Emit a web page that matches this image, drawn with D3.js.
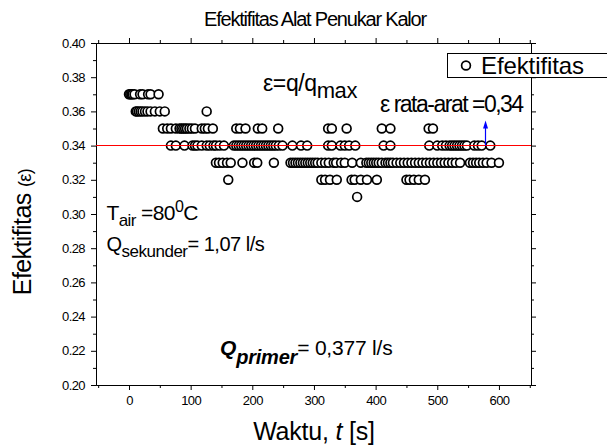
<!DOCTYPE html>
<html><head><meta charset="utf-8">
<script src="https://cdn.jsdelivr.net/npm/d3@7"></script>
<style>
body{margin:0;background:#fff}
svg{display:block}
text{font-family:"Liberation Sans",Arial,sans-serif;fill:#000}
</style>
</head><body>
<svg id="chart" width="607" height="448"></svg>
<script>
// ---- data ----
const xMajorTicks = [0, 100, 200, 300, 400, 500, 600];
const xMinorTicks = [-50, 50, 150, 250, 350, 450, 550, 650];
const yMajorTicks = [0.20, 0.22, 0.24, 0.26, 0.28, 0.30, 0.32, 0.34, 0.36, 0.38, 0.40];
const yMinorTicks = [0.21, 0.23, 0.25, 0.27, 0.29, 0.31, 0.33, 0.35, 0.37, 0.39];
const rataRata = 0.34;
const arrowTime = 577;
// waktu [s] at which each effectiveness level was measured
const waktu037 = [0, 2, 4, 6, 9, 18, 22, 31, 35, 48];
const waktu036 = [11, 13, 16, 19, 22, 26, 30, 35, 42, 50, 58, 126];
const waktu035 = [55, 62, 68, 76, 82, 85, 88, 91, 94, 98, 102, 107, 118, 123, 128, 136, 174, 180, 189, 209, 216, 242, 323, 329, 353, 410, 424, 486, 493];
const waktu034 = [68, 76, 90, 103, 107, 111, 118, 126, 131, 137, 141, 147, 154, 170, 174, 178, 182, 186, 190, 194, 198, 202, 206, 210, 214, 218, 222, 226, 230, 234, 238, 243, 249, 265, 279, 289, 323, 329, 343, 350, 357, 367, 413, 424, 487, 500, 508, 514, 520, 524, 528, 532, 536, 540, 544, 548, 560, 566, 572, 586];
const waktu033 = [141, 146, 152, 159, 165, 184, 203, 208, 235, 262, 266, 270, 274, 278, 282, 286, 290, 294, 298, 302, 306, 312, 318, 324, 332, 336, 344, 350, 362, 376, 385, 389, 393, 397, 401, 405, 410, 416, 420, 424, 428, 434, 440, 446, 452, 458, 464, 470, 476, 482, 488, 494, 500, 506, 512, 518, 524, 530, 537, 553, 558, 563, 568, 574, 580, 588, 600];
const waktu032 = [161, 312, 318, 326, 337, 361, 366, 376, 386, 402, 450, 455, 462, 470, 480];
const waktu031 = [370];
const levels = [0.37, 0.36, 0.35, 0.34, 0.33, 0.32, 0.31];
const waktuPerLevel = [waktu037, waktu036, waktu035, waktu034, waktu033, waktu032, waktu031];

const points = [];
levels.forEach((lv, i) => waktuPerLevel[i].forEach(t => points.push({t: t, e: lv})));
points.sort((a, b) => a.t - b.t);

// ---- layout ----
const L = 96, R = 531, T = 43, B = 385;
const x = d3.scaleLinear().domain([-53.5, 652]).range([L, R]);
const y = d3.scaleLinear().domain([0.20, 0.40]).range([B, T]);
const svg = d3.select("#chart");

function styleAxis(g) {
  g.selectAll("path.domain").attr("stroke", "#000").attr("stroke-width", 1);
  g.selectAll(".tick line").attr("stroke", "#000").attr("stroke-width", 1);
  g.selectAll(".tick text").attr("font-family", '"Liberation Sans",Arial,sans-serif')
    .attr("font-size", 13).attr("fill", "#000").style("letter-spacing", "-0.6px");
}

// bottom
svg.append("g").attr("transform", `translate(0,${B})`)
  .call(d3.axisBottom(x).tickValues(xMajorTicks).tickSize(5).tickSizeOuter(0).tickPadding(6).tickFormat(d3.format("d")))
  .call(styleAxis);
svg.append("g").attr("transform", `translate(0,${B})`)
  .call(d3.axisBottom(x).tickValues(xMinorTicks).tickSize(3).tickSizeOuter(0).tickFormat(""))
  .call(styleAxis);
// top
svg.append("g").attr("transform", `translate(0,${T})`)
  .call(d3.axisTop(x).tickValues(xMajorTicks).tickSize(5).tickSizeOuter(0).tickFormat(""))
  .call(styleAxis);
svg.append("g").attr("transform", `translate(0,${T})`)
  .call(d3.axisTop(x).tickValues(xMinorTicks).tickSize(3).tickSizeOuter(0).tickFormat(""))
  .call(styleAxis);
// left
svg.append("g").attr("transform", `translate(${L},0)`)
  .call(d3.axisLeft(y).tickValues(yMajorTicks).tickSize(5).tickSizeOuter(0).tickPadding(6).tickFormat(d3.format(".2f")))
  .call(styleAxis);
svg.append("g").attr("transform", `translate(${L},0)`)
  .call(d3.axisLeft(y).tickValues(yMinorTicks).tickSize(3).tickSizeOuter(0).tickFormat(""))
  .call(styleAxis);
// right
svg.append("g").attr("transform", `translate(${R},0)`)
  .call(d3.axisRight(y).tickValues(yMajorTicks).tickSize(5).tickSizeOuter(0).tickFormat(""))
  .call(styleAxis);
svg.append("g").attr("transform", `translate(${R},0)`)
  .call(d3.axisRight(y).tickValues(yMinorTicks).tickSize(3).tickSizeOuter(0).tickFormat(""))
  .call(styleAxis);

// points
svg.append("g").selectAll("circle").data(points).join("circle")
  .attr("cx", d => x(d.t)).attr("cy", d => y(d.e)).attr("r", 4.4)
  .attr("fill", "#fff").attr("stroke", "#000").attr("stroke-width", 1.7);

// red average line (drawn over the points)
const yAvg = Math.floor(y(rataRata)) + 0.5;
svg.append("line").attr("x1", L).attr("x2", R).attr("y1", yAvg).attr("y2", yAvg)
  .attr("stroke", "#ff0000").attr("stroke-width", 1.2);

// blue arrow
const ax = Math.round(x(arrowTime)) + 0.5;
svg.append("line").attr("x1", ax).attr("x2", ax).attr("y1", yAvg).attr("y2", yAvg - 19)
  .attr("stroke", "#0000ff").attr("stroke-width", 1.2);
svg.append("path").attr("d", `M${ax},${yAvg - 25} L${ax - 2.5},${yAvg - 17} L${ax + 2.5},${yAvg - 17} Z`)
  .attr("fill", "#0000ff");

// legend
svg.append("rect").attr("x", 447.5).attr("y", 53.5).attr("width", 170).attr("height", 24)
  .attr("fill", "#fff").attr("stroke", "#000").attr("stroke-width", 1);
svg.append("circle").attr("cx", 466).attr("cy", 65.5).attr("r", 4.4)
  .attr("fill", "#fff").attr("stroke", "#000").attr("stroke-width", 1.7);
svg.append("text").attr("x", 481).attr("y", 74).attr("font-size", 24).style("letter-spacing", "-0.1px").text("Efektifitas");

// title
svg.append("text").attr("x", 315).attr("y", 26).attr("text-anchor", "middle").attr("font-size", 20)
  .style("letter-spacing", "-1.2px").text("Efektifitas Alat Penukar Kalor");

// axis titles
const xl = svg.append("text").attr("x", 314).attr("y", 440).attr("text-anchor", "middle").attr("font-size", 25).style("letter-spacing", "-0.2px");
xl.append("tspan").text("Waktu, ");
xl.append("tspan").attr("font-style", "italic").text("t");
xl.append("tspan").text(" [s]");

const yl = svg.append("text").attr("transform", "translate(31,232) rotate(-90)").attr("text-anchor", "middle").style("letter-spacing", "-0.6px");
yl.append("tspan").attr("font-size", 25).text("Efektifitas ");
yl.append("tspan").attr("font-size", 18).text("(ε)");

// annotations
const a1 = svg.append("text").attr("x", 263).attr("y", 91).attr("font-size", 23).style("letter-spacing", "-0.4px");
a1.append("tspan").text("ε=q/q");
a1.append("tspan").attr("dy", 7).attr("font-size", 22).text("max");

svg.append("text").attr("x", 380).attr("y", 111.5).attr("font-size", 23).style("letter-spacing", "-1.5px").text("ε rata-arat =0,34");

const a3 = svg.append("text").attr("x", 106.5).attr("y", 220).attr("font-size", 21).style("letter-spacing", "-0.6px");
a3.append("tspan").text("T");
a3.append("tspan").attr("dy", 6).attr("font-size", 17).text("air");
a3.append("tspan").attr("dy", -6).text(" =80");
a3.append("tspan").attr("dy", -8).attr("font-size", 16).text("0");
a3.append("tspan").attr("dy", 8).text("C");

const a4 = svg.append("text").attr("x", 106.5).attr("y", 251).attr("font-size", 20).style("letter-spacing", "-0.5px");
a4.append("tspan").text("Q");
a4.append("tspan").attr("dy", 6).attr("font-size", 17).text("sekunder");
a4.append("tspan").attr("dy", -6).text("= 1,07 l/s");

const a5 = svg.append("text").attr("x", 220).attr("y", 355).attr("font-size", 21).style("letter-spacing", "-0.2px");
a5.append("tspan").attr("font-weight", "bold").attr("font-style", "italic").text("Q");
a5.append("tspan").attr("dy", 9).attr("font-size", 20).attr("font-weight", "bold").attr("font-style", "italic").text("primer");
a5.append("tspan").attr("dy", -9).text("= 0,377 l/s");
</script>
</body></html>
